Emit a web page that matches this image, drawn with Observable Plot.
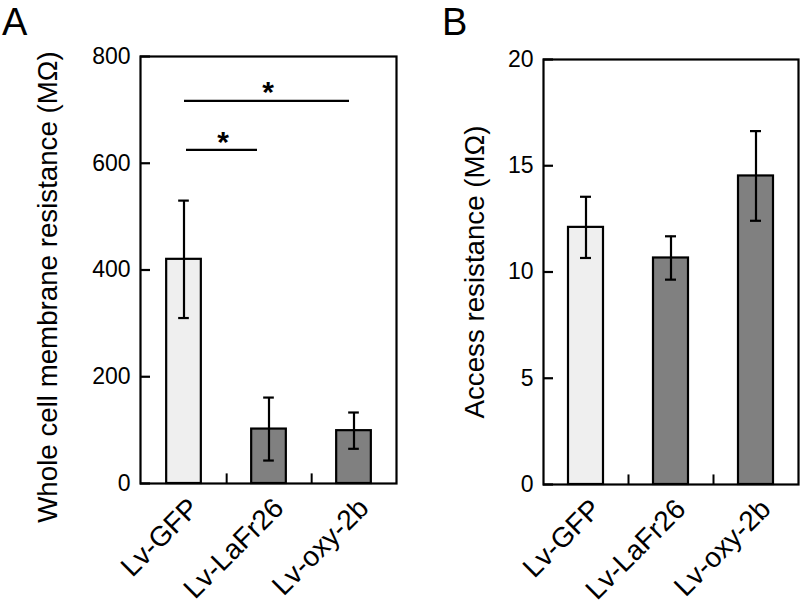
<!DOCTYPE html>
<html><head><meta charset="utf-8">
<script src="https://cdn.jsdelivr.net/npm/d3@7"></script>
<script src="https://cdn.jsdelivr.net/npm/@observablehq/plot@0.6"></script>
<style>
body{margin:0;background:#fff;}
#wrap{position:relative;display:flex;width:800px;height:605px;overflow:hidden;}
.letter{position:absolute;top:1px;font:38px/42px "Liberation Sans",Arial,sans-serif;color:#000;}
</style></head><body><div id="wrap"></div>
<script>
// ---- data ----
const groups = ["Lv-GFP", "Lv-LaFr26", "Lv-oxy-2b"];
const membraneMean = [420, 102, 99];
const membraneErr = [110, 59, 34];
const accessMean = [12.1, 10.66, 14.52];
const accessErr = [1.44, 1.02, 2.11];
const membraneTicks = [0, 200, 400, 600, 800];
const accessTicks = [0, 5, 10, 15, 20];
const sigLongY = 717;   // Lv-GFP vs Lv-oxy-2b
const sigShortY = 625;  // Lv-GFP vs Lv-LaFr26

const FONT = '"Liberation Sans", Arial, sans-serif';
const light = "#efefef", dark = "#808080";

function panel({means, errs, ticks, domain, label, mLeft, mRight, mTop, mBottom, sepLen, labelDx, labelDy, extra}) {
  const data = groups.map((g, i) => ({g, m: means[i], e: errs[i]}));
  const bw = (400 - mLeft - mRight) / 3;
  const barInset = (bw - 35) / 2;
  const capInset = (bw - 11) / 2;
  return Plot.plot({
    width: 400, height: 605,
    marginLeft: mLeft, marginRight: mRight, marginTop: mTop, marginBottom: mBottom,
    style: {fontFamily: FONT, color: "#000", background: "#fff"},
    x: {domain: groups, padding: 0, label: null},
    y: {domain, label: null},
    color: {type: "identity"},
    marks: [
      Plot.barY(data, {x: "g", y: "m", fill: d => d.g === "Lv-GFP" ? light : dark, stroke: "#000", strokeWidth: 2.2, insetLeft: barInset, insetRight: barInset}),
      Plot.ruleX(data, {x: "g", y1: d => d.m - d.e, y2: d => d.m + d.e, stroke: "#000", strokeWidth: 2.2}),
      Plot.tickY(data, {x: "g", y: d => d.m + d.e, stroke: "#000", strokeWidth: 2.2, insetLeft: capInset, insetRight: capInset}),
      Plot.tickY(data, {x: "g", y: d => d.m - d.e, stroke: "#000", strokeWidth: 2.2, insetLeft: capInset, insetRight: capInset}),
      Plot.ruleX(groups.slice(0, 2), {x: d => d, dx: bw / 2, y1: domain[0], y2: sepLen, stroke: "#000", strokeWidth: 2}),
      ...(extra ? extra(bw) : []),
      Plot.frame({stroke: "#000", strokeWidth: 2.2}),
      Plot.axisY({ticks, tickSize: -10, tickPadding: 20, fontSize: 23, tickFormat: d => String(d), strokeWidth: 2.2, label: null}),
      Plot.axisX({tickSize: 0, tickRotate: -45, tickPadding: 20, fontSize: 28, dx: 10, label: null}),
      Plot.text([label], {frameAnchor: "left", rotate: -90, textAnchor: "middle", dx: labelDx, dy: labelDy, fontSize: 27.7, fill: "#000"})
    ]
  });
}

const wrap = document.getElementById("wrap");
const a = panel({
  means: membraneMean, errs: membraneErr, ticks: membraneTicks, domain: [0, 800],
  label: "Whole cell membrane resistance (MΩ)",
  mLeft: 140, mRight: 4, mTop: 56, mBottom: 122, sepLen: 18, labelDx: -92, labelDy: 17,
  extra: (bw) => [
    Plot.ruleY([sigLongY], {y: d => d, x1: () => groups[0], x2: () => groups[2], insetLeft: 43, insetRight: 47, stroke: "#000", strokeWidth: 2.2}),
    Plot.ruleY([sigShortY], {y: d => d, x1: () => groups[0], x2: () => groups[1], insetLeft: 45, insetRight: 54, stroke: "#000", strokeWidth: 2.2}),
    Plot.text([sigLongY], {y: d => d, x: () => groups[1], text: () => "*", fontSize: 30, fontWeight: "bold", dy: -8, dx: -1, fill: "#000"}),
    Plot.text([sigShortY], {y: d => d, x: () => groups[0], text: () => "*", fontSize: 30, fontWeight: "bold", dy: -8, dx: 39, fill: "#000"})
  ]
});
const b = panel({
  means: accessMean, errs: accessErr, ticks: accessTicks, domain: [0, 20],
  label: "Access resistance (MΩ)",
  mLeft: 143, mRight: 2, mTop: 59, mBottom: 121, sepLen: 0.45, labelDx: -68, labelDy: 0
});
wrap.append(a, b);
const la = document.createElement("div"); la.className = "letter"; la.style.left = "2px"; la.textContent = "A";
const lb = document.createElement("div"); lb.className = "letter"; lb.style.left = "442px"; lb.textContent = "B";
wrap.append(la, lb);
</script></body></html>
